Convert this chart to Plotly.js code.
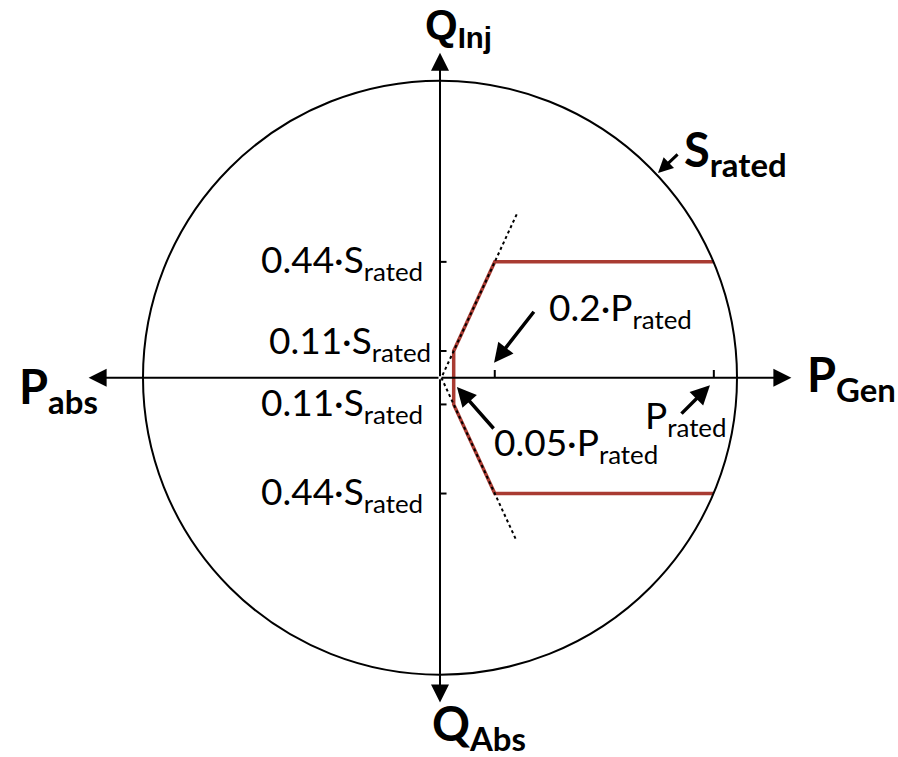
<!DOCTYPE html>
<html>
<head>
<meta charset="utf-8">
<script src="https://cdn.plot.ly/plotly-3.0.1.min.js"></script>
<style>
  html, body { margin: 0; padding: 0; background: #fff; }
  #chart { width: 898px; height: 757px; }
</style>
</head>
<body>
<div id="chart"></div>
<script>
// values as drawn, in units of S_rated (circle radius = 1)
const sRated = 1;
const pRated = 0.922;            // P_rated tick on the P axis
const pFrac = [0.05, 0.2];       // breakpoints of the curve, fraction of P_rated
const pTickFrac = [0.2, 1];      // ticks on the P axis
const qDrawn = [0.09, 0.39];     // reactive limits as drawn
const qLabels = ['0.11', '0.44'];
const dottedReach = 0.55;        // how far the dotted slope lines run

const RED = '#A93B32';
const labelFont = { family: 'Lato, "Open Sans", sans-serif', size: 37, color: '#000' };
const boldFont = { family: 'Lato, "Open Sans", sans-serif', size: 47, color: '#000', weight: 700 };

// Red capability curve =====
const qLo = qDrawn[0], qHi = qDrawn[1];
const xLo = pFrac[0] * pRated, xHi = pFrac[1] * pRated;
const xEnd = Math.sqrt(sRated * sRated - qHi * qHi);   // horizontal part stops at the circle
const curveX = [xEnd, xHi, xLo, xLo, xHi, xEnd];
const curveY = [qHi, qHi, qLo, -qLo, -qHi, -qHi];

// dotted lines continue the slanted part of the curve
const slope = (qHi - qLo) / (xHi - xLo);
const xOn = y => xLo + (Math.abs(y) - qLo) / slope;
const dotY = [dottedReach, 0, -dottedReach];
const dotX = dotY.map(xOn);

const data = [
    {
        type: 'scatter', mode: 'lines',
        x: curveX, y: curveY,
        line: { color: RED, width: 3.5 },
        hoverinfo: 'skip'
    },
    {
        type: 'scatter', mode: 'lines',
        x: dotX, y: dotY,
        line: { color: '#000', width: 2, dash: 'dot' },
        hoverinfo: 'skip'
    }
];

// circle + small ticks
const shapes = [
    { type: 'circle', xref: 'x', yref: 'y', x0: -sRated, x1: sRated, y0: -sRated, y1: sRated,
      line: { color: '#000', width: 2 } }
];
for (const q of qDrawn) {
    for (const s of [1, -1]) {
        shapes.push({ type: 'line', xref: 'x', yref: 'y', x0: 0, x1: 0.022, y0: s * q, y1: s * q,
                      line: { color: '#000', width: 2 } });
    }
}
for (const f of pTickFrac) {
    shapes.push({ type: 'line', xref: 'x', yref: 'y', x0: f * pRated, x1: f * pRated, y0: 0, y1: 0.026,
                  line: { color: '#000', width: 2 } });
}

// axis arrows from the origin
const axisTip = 1.183;
const axisArrow = (x, y) => ({
    x, y, ax: 0, ay: 0, xref: 'x', yref: 'y', axref: 'x', ayref: 'y',
    text: '', showarrow: true, arrowhead: 2, arrowsize: 1.8, arrowwidth: 2, arrowcolor: '#000'
});
const pointer = (tx, ty, hx, hy, w, sz) => ({
    x: hx, y: hy, ax: tx, ay: ty, xref: 'x', yref: 'y', axref: 'x', ayref: 'y',
    text: '', showarrow: true, arrowhead: 2, arrowsize: sz, arrowwidth: w, arrowcolor: '#000'
});
const label = (text, x, y, xanchor, font) => ({
    text, x, y, xref: 'x', yref: 'y', xanchor, yanchor: 'middle', showarrow: false, font
});

const annotations = [
    axisArrow(axisTip, 0), axisArrow(-axisTip, 0),
    axisArrow(0, 1.094), axisArrow(0, -1.094),

    label(`${qLabels[1]}·S<sub>rated</sub>`, -0.05, qHi, 'right', labelFont),
    label(`${qLabels[0]}·S<sub>rated</sub>`, -0.024, qLo + 0.027, 'right', labelFont),
    label(`${qLabels[0]}·S<sub>rated</sub>`, -0.05, -qLo, 'right', labelFont),
    label(`${qLabels[1]}·S<sub>rated</sub>`, -0.05, -qHi, 'right', labelFont),

    label(`${pFrac[1]}·P<sub>rated</sub>`, 0.36, 0.228, 'left', labelFont),
    label(`${pFrac[0]}·P<sub>rated</sub>`, 0.176, -0.225, 'left', labelFont),
    label('P<sub>rated</sub>', 0.682, -0.134, 'left', labelFont),

    pointer(0.320, 0.227, 0.182, 0.05, 3.5, 1.1),
    pointer(0.185, -0.176, 0.057, -0.031, 3.5, 1.1),
    pointer(0.808, -0.126, 0.909, -0.025, 3.5, 1.1),
    pointer(0.805, 0.757, 0.734, 0.689, 3, 1),

    label('P<sub>abs</sub>', -1.286, -0.041, 'center', boldFont),
    label('P<sub>Gen</sub>', 1.228, 0, 'left', boldFont),
    label('Q<sub>Abs</sub>', -0.034, -1.173, 'left', boldFont),
    label('Q<sub>Inj</sub>', -0.057, 1.179, 'left',
          { family: '"Liberation Sans Narrow", "Liberation Sans", Arial, sans-serif', size: 42, color: '#000', weight: 700 }),
    label('S<sub>rated</sub>', 0.815, 0.758, 'left', boldFont)
];

const layout = {
    width: 898, height: 757,
    margin: { l: 0, r: 0, t: 0, b: 0 },
    paper_bgcolor: '#fff', plot_bgcolor: '#fff',
    showlegend: false,
    xaxis: { range: [-440 / 297, 458 / 297], visible: false, fixedrange: true },
    yaxis: { range: [-379.3 / 297, 377.7 / 297], visible: false, fixedrange: true },
    shapes, annotations
};

Plotly.newPlot('chart', data, layout, { displayModeBar: false, staticPlot: true });
</script>
</body>
</html>
